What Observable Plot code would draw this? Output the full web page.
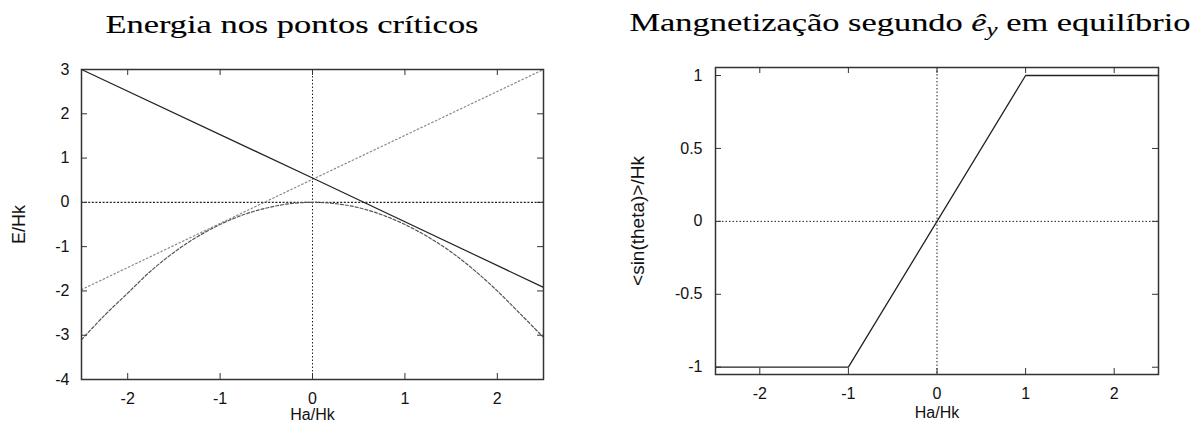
<!DOCTYPE html>
<html><head><meta charset="utf-8">
<script src="https://cdn.jsdelivr.net/npm/d3@7"></script>
<script src="https://cdn.jsdelivr.net/npm/@observablehq/plot@0.6"></script>
<style>
body{margin:0;background:#fff;width:1192px;height:426px;overflow:hidden;position:relative;font-family:"Liberation Sans",Arial,sans-serif;}
.panel{position:absolute;top:50px;}
</style></head><body>
<div id="left" class="panel" style="left:0px"></div>
<div id="right" class="panel" style="left:600px"></div>
<script>
// ---- Data ----
const titleLeft = "Energia nos pontos críticos";
const titleRightA = "Mangnetização segundo ";
const titleRightHat = "ê";
const titleRightSub = "y";
const titleRightB = " em equilíbrio";
const xLabel = "Ha/Hk";
const yLabelLeft = "E/Hk";
const yLabelRight = "<sin(theta)>/Hk";

// Left chart: energy at critical points
const energyH = [-2.5,-2.25,-2,-1.75,-1.5,-1.25,-1,-0.75,-0.5,-0.25,0,0.25,0.5,0.75,1,1.25,1.5,1.75,2,2.25,2.5];
const energyParabola = [-3.1,-2.55,-2.05,-1.55,-1.13,-0.78,-0.5,-0.28,-0.13,-0.03,0,-0.03,-0.12,-0.28,-0.5,-0.78,-1.12,-1.53,-2.0,-2.52,-3.05];
const lineDownH = [-2.5, 0, 2.5];
const lineDownE = [3.0, 0.55, -1.92];
const lineUpH = [-2.5, 0, 2.5];
const lineUpE = [-1.97, 0.52, 3.0];
const leftXTicks = [-2,-1,0,1,2];
const leftYTicks = [3,2,1,0,-1,-2,-3,-4];

// Right chart: magnetization along e_y
const magH = [-2.5,-1,1,2.5];
const magM = [-1,-1,1,1];
const rightXTicks = [-2,-1,0,1,2];
const rightYTicks = [1,0.5,0,-0.5,-1];

// ---- Titles ----
const tsvg = d3.select("body").append("svg")
  .attr("width",1192).attr("height",50)
  .style("position","absolute").style("left","0px").style("top","0px");
tsvg.append("text")
  .attr("x",292).attr("y",33).attr("text-anchor","middle")
  .attr("font-family",'"Liberation Serif", serif').attr("font-size",25).attr("fill","#000")
  .attr("stroke","#000").attr("stroke-width",0.12)
  .attr("textLength",373).attr("lengthAdjust","spacingAndGlyphs")
  .text(titleLeft);
const rt = tsvg.append("text")
  .attr("x",910).attr("y",31).attr("text-anchor","middle")
  .attr("font-family",'"Liberation Serif", serif').attr("font-size",25).attr("fill","#000")
  .attr("stroke","#000").attr("stroke-width",0.12)
  .attr("textLength",561).attr("lengthAdjust","spacingAndGlyphs");
rt.append("tspan").text(titleRightA);
rt.append("tspan").attr("font-style","italic").text(titleRightHat);
rt.append("tspan").attr("font-style","italic").attr("font-size",18).attr("dy",5).text(titleRightSub);
rt.append("tspan").attr("dy",-5).text(titleRightB);

// ---- Plots ----
const fmt = d => String(d);
const H = 376;
const FF = '"Liberation Sans", Arial, sans-serif';
const styleObj = {fontFamily:FF, fontSize:"16px", color:"#111", background:"#fff", overflow:"visible"};

// Left
const W1=600, mL1=81, mR1=57, mT1=19, mB1=47;
const pw1 = W1-mL1-mR1, ph1 = H-mT1-mB1;
const leftPlot = Plot.plot({
  width:W1, height:H, marginLeft:mL1, marginRight:mR1, marginTop:mT1, marginBottom:mB1,
  style:styleObj,
  x:{domain:[-2.5,2.5]},
  y:{domain:[-4,3]},
  marks:[
    Plot.ruleX([0], {stroke:"#222", strokeWidth:1, strokeDasharray:"1.5,2"}),
    Plot.ruleY([0], {stroke:"#222", strokeWidth:1.4, strokeDasharray:"2,1.6"}),
    Plot.line(energyH, {x:energyH, y:energyParabola, stroke:"#555", strokeWidth:1.2, strokeDasharray:"3,2", curve:"catmull-rom"}),
    Plot.line(lineUpH, {x:lineUpH, y:lineUpE, stroke:"#888", strokeWidth:1.2, strokeDasharray:"1.5,2.5"}),
    Plot.line(lineDownH, {x:lineDownH, y:lineDownE, stroke:"#222", strokeWidth:1.2}),
    Plot.ruleX(leftXTicks, {insetTop:ph1-6, stroke:"#333"}),
    Plot.ruleX(leftXTicks, {insetBottom:ph1-6, stroke:"#333"}),
    Plot.ruleY(leftYTicks, {insetLeft:pw1-6, stroke:"#333"}),
    Plot.ruleY(leftYTicks, {insetRight:pw1-6, stroke:"#333"}),
    Plot.frame({stroke:"#333", strokeWidth:1.5}),
    Plot.axisX(leftXTicks, {tickSize:0, tickPadding:13, tickFormat:fmt, fontSize:16, fontFamily:FF, label:xLabel, labelAnchor:"center", labelArrow:"none", labelOffset:40}),
    Plot.axisY(leftYTicks, {tickSize:0, tickPadding:12, tickFormat:fmt, fontSize:16, fontFamily:FF, label:null}),
    Plot.text([yLabelLeft], {text:d=>d, frameAnchor:"left", textAnchor:"middle", lineAnchor:"middle", rotate:-90, dx:-62, fontSize:18, fontFamily:FF, fill:"#111"})
  ]
});
document.getElementById("left").append(leftPlot);

// Right
const W2=592, mL2=115, mR2=34, mT2=17, mB2=52;
const pw2 = W2-mL2-mR2, ph2 = H-mT2-mB2;
const rightPlot = Plot.plot({
  width:W2, height:H, marginLeft:mL2, marginRight:mR2, marginTop:mT2, marginBottom:mB2,
  style:styleObj,
  x:{domain:[-2.5,2.5]},
  y:{domain:[-1.05,1.055]},
  marks:[
    Plot.ruleX([0], {stroke:"#222", strokeWidth:1, strokeDasharray:"1.5,2"}),
    Plot.ruleY([0], {stroke:"#222", strokeWidth:1, strokeDasharray:"1.5,2"}),
    Plot.line(magH, {x:magH, y:magM, stroke:"#222", strokeWidth:1.3}),
    Plot.ruleX(rightXTicks, {insetTop:ph2-6, stroke:"#333"}),
    Plot.ruleX(rightXTicks, {insetBottom:ph2-6, stroke:"#333"}),
    Plot.ruleY(rightYTicks, {insetLeft:pw2-6, stroke:"#333"}),
    Plot.ruleY(rightYTicks, {insetRight:pw2-6, stroke:"#333"}),
    Plot.frame({stroke:"#333", strokeWidth:1.5}),
    Plot.axisX(rightXTicks, {tickSize:0, tickPadding:13, tickFormat:fmt, fontSize:16, fontFamily:FF, label:xLabel, labelAnchor:"center", labelArrow:"none", labelOffset:43}),
    Plot.axisY(rightYTicks, {tickSize:0, tickPadding:13, tickFormat:fmt, fontSize:16, fontFamily:FF, label:null}),
    Plot.text([yLabelRight], {text:d=>d, frameAnchor:"left", textAnchor:"middle", lineAnchor:"middle", rotate:-90, dx:-78, fontSize:19, fontFamily:FF, fill:"#111"})
  ]
});
document.getElementById("right").append(rightPlot);
</script>
</body></html>
